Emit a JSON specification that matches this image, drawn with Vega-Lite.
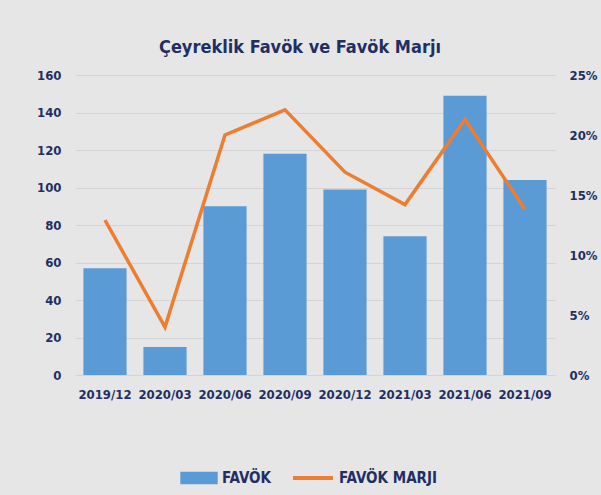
{
  "$schema": "https://vega.github.io/schema/vega-lite/v6.json",
  "width": 480,
  "height": 300,
  "autosize": {"type": "none"},
  "padding": {"left": 75, "top": 75, "right": 46, "bottom": 120},
  "background": "#E6E6E6",
  "title": {
    "text": "Çeyreklik Favök ve Favök Marjı",
    "font": "DejaVu Sans Condensed",
    "fontSize": 18,
    "fontWeight": "bold",
    "color": "#1F2F63",
    "anchor": "middle",
    "frame": "group",
    "dx": -15,
    "offset": 12
  },
  "config": {
    "view": {"stroke": null},
    "font": "DejaVu Sans Condensed",
    "axis": {
      "labelFont": "DejaVu Sans Condensed",
      "labelFontWeight": "bold",
      "labelColor": "#1F2F63",
      "labelFontSize": 13,
      "ticks": false,
      "domain": false,
      "title": null
    },
    "legend": {
      "labelFont": "DejaVu Sans Condensed",
      "labelFontWeight": "bold",
      "labelColor": "#1F2F63",
      "labelFontSize": 15,
      "labelOffset": 4
    }
  },
  "data": {
    "values": [
      {"donem": "2019/12", "favok": 57, "marj": 0.129},
      {"donem": "2020/03", "favok": 15, "marj": 0.040},
      {"donem": "2020/06", "favok": 90, "marj": 0.200},
      {"donem": "2020/09", "favok": 118, "marj": 0.221},
      {"donem": "2020/12", "favok": 99, "marj": 0.169},
      {"donem": "2021/03", "favok": 74, "marj": 0.142},
      {"donem": "2021/06", "favok": 149, "marj": 0.213},
      {"donem": "2021/09", "favok": 104, "marj": 0.138}
    ]
  },
  "encoding": {
    "x": {
      "field": "donem",
      "type": "ordinal",
      "sort": null,
      "scale": {"paddingInner": 0.28, "paddingOuter": 0.14},
      "axis": {"labelAngle": 0, "labelPadding": 13, "grid": false}
    }
  },
  "layer": [
    {
      "mark": {"type": "bar", "color": "#5B9BD5"},
      "encoding": {
        "y": {
          "field": "favok",
          "type": "quantitative",
          "scale": {"domain": [0, 160]},
          "axis": {"values": [0, 20, 40, 60, 80, 100, 120, 140, 160], "labelPadding": 14, "grid": true, "gridColor": "#D4D4D4", "gridWidth": 1}
        },
        "fill": {
          "datum": "FAVÖK",
          "scale": {"domain": ["FAVÖK"], "range": ["#5B9BD5"]},
          "legend": {
            "orient": "none",
            "legendX": 105,
            "legendY": 384,
            "title": null,
            "symbolType": "M-1,-0.33H1V0.33H-1Z",
            "symbolSize": 1400,
            "symbolStrokeWidth": 0
          }
        }
      }
    },
    {
      "mark": {"type": "line", "color": "#ED7D31", "strokeWidth": 3.5},
      "encoding": {
        "y": {
          "field": "marj",
          "type": "quantitative",
          "scale": {"domain": [0, 0.25]},
          "axis": {"orient": "right", "format": ".0%", "values": [0, 0.05, 0.1, 0.15, 0.2, 0.25], "labelPadding": 14, "grid": false}
        },
        "stroke": {
          "datum": "FAVÖK MARJI",
          "scale": {"domain": ["FAVÖK MARJI"], "range": ["#ED7D31"]},
          "legend": {
            "orient": "none",
            "legendX": 216,
            "legendY": 381,
            "title": null,
            "symbolType": "stroke",
            "symbolSize": 1600,
            "symbolStrokeWidth": 4
          }
        }
      }
    }
  ],
  "resolve": {"scale": {"y": "independent"}}
}
